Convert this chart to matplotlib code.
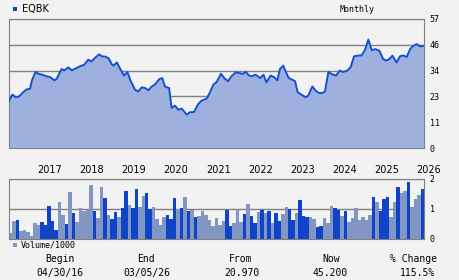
import numpy as np
import matplotlib
matplotlib.use("Agg")
import matplotlib.pyplot as plt
from matplotlib.patches import Rectangle

# price line, x in decimal years
price_t = [2016.33, 2016.41, 2016.49, 2016.57, 2016.67, 2016.75, 2016.83, 2016.88, 2016.96,
           2017.03, 2017.12, 2017.22, 2017.30, 2017.41, 2017.46, 2017.58, 2017.64, 2017.74,
           2017.82, 2017.91, 2018.01, 2018.11, 2018.21, 2018.29, 2018.39, 2018.47, 2018.54,
           2018.62, 2018.70, 2018.77, 2018.81, 2018.89, 2018.96, 2019.06, 2019.14, 2019.22,
           2019.32, 2019.40, 2019.48, 2019.56, 2019.64, 2019.72, 2019.79, 2019.90, 2019.97,
           2020.03, 2020.13, 2020.19, 2020.27, 2020.35, 2020.43, 2020.55, 2020.62, 2020.72,
           2020.82, 2020.90, 2021.02, 2021.10, 2021.18, 2021.26, 2021.33, 2021.36, 2021.44,
           2021.53, 2021.61, 2021.71, 2021.81, 2021.87, 2021.95, 2022.03, 2022.10, 2022.18,
           2022.29, 2022.37, 2022.44, 2022.54, 2022.62, 2022.70, 2022.76, 2022.84, 2022.90,
           2022.97, 2023.05, 2023.12, 2023.18, 2023.27, 2023.37, 2023.43, 2023.53, 2023.61,
           2023.69, 2023.77, 2023.83, 2023.91, 2023.99, 2024.09, 2024.18, 2024.26, 2024.36,
           2024.44, 2024.52, 2024.60, 2024.70, 2024.78, 2024.86, 2024.94, 2025.02, 2025.12,
           2025.21, 2025.29, 2025.37, 2025.43, 2025.53, 2025.61, 2025.69, 2025.77, 2025.85,
           2025.93, 2026.01, 2026.09, 2026.18]
price = [20.9, 23.6, 22.4, 22.8, 24.7, 25.9, 26.2, 30.2, 33.6,
         32.8, 32.4, 31.7, 31.4, 29.9, 30.6, 34.9, 34.3, 35.6,
         34.3, 35.1, 36.1, 36.7, 39.0, 38.3, 40.1, 41.4, 40.5,
         40.4, 39.5, 37.0, 36.4, 37.8, 35.3, 32.0, 33.6, 29.5,
         25.8, 25.0, 26.8, 26.5, 25.5, 27.2, 28.0, 30.5, 30.9,
         27.2, 26.5, 17.7, 18.7, 16.9, 17.4, 14.7, 15.8, 15.9,
         19.4, 20.9, 21.8, 24.6, 28.0, 29.2, 31.7, 32.8, 30.9,
         29.5, 31.7, 33.4, 33.1, 32.7, 33.6, 32.0, 31.7, 32.4,
         30.9, 32.4, 29.0, 32.0, 31.4, 29.9, 34.9, 36.4, 33.6,
         30.9, 30.2, 29.5, 24.7, 23.6, 22.4, 23.1, 27.2, 25.3,
         24.3, 24.3, 25.0, 33.6, 32.7, 32.0, 34.2, 33.6, 34.2,
         35.8, 40.5, 40.8, 40.9, 43.4, 47.9, 43.2, 43.7, 43.0,
         39.3, 38.6, 39.5, 40.8, 37.8, 40.5, 40.9, 40.2, 43.7,
         45.2, 45.9, 44.9, 45.2]

# monthly volume (thousands), 1 = up month (dark bar)
volume = [0.19, 0.6, 0.64, 0.28, 0.3, 0.23, 0.1, 0.54, 0.47, 0.57,
          0.47, 1.1, 0.6, 0.3, 1.24, 0.8, 0.5, 1.58, 0.87, 0.57,
          1.03, 0.92, 0.98, 1.81, 0.94, 0.7, 1.74, 1.37, 0.8, 0.67,
          0.9, 0.74, 1.04, 1.6, 1.14, 1.04, 1.68, 1.07, 1.44, 1.54,
          1.0, 1.07, 0.67, 0.47, 0.74, 0.8, 0.67, 1.37, 1.0, 1.04,
          1.41, 0.94, 0.97, 0.74, 0.77, 0.94, 0.8, 0.64, 0.44, 0.7,
          0.47, 0.6, 0.97, 0.44, 0.54, 1.0, 0.57, 0.84, 1.17, 0.77,
          0.54, 0.9, 0.97, 0.87, 0.94, 0.54, 0.87, 0.6, 0.84, 1.07,
          1.0, 0.64, 0.87, 1.31, 0.77, 0.74, 0.74, 0.67, 0.4, 0.44,
          0.7, 0.54, 1.1, 1.04, 0.97, 0.77, 0.94, 0.57, 0.7, 1.04,
          0.64, 0.74, 0.64, 0.8, 1.41, 1.24, 0.94, 1.34, 1.41, 0.74,
          1.24, 1.74, 1.54, 1.61, 1.91, 1.07, 1.34, 1.47, 1.68]
up = [0, 0, 1, 0, 0, 0, 0, 0, 0, 1,
      1, 1, 1, 1, 0, 0, 1, 0, 1, 0,
      0, 0, 0, 0, 1, 0, 0, 1, 0, 1,
      1, 0, 1, 1, 0, 1, 1, 0, 0, 1,
      1, 0, 0, 0, 0, 1, 1, 1, 0, 1,
      0, 1, 0, 1, 0, 0, 0, 0, 0, 0,
      0, 0, 1, 1, 0, 0, 0, 1, 0, 1,
      1, 0, 1, 0, 1, 0, 1, 1, 0, 0,
      1, 1, 0, 1, 1, 1, 0, 0, 1, 1,
      0, 0, 0, 1, 1, 0, 1, 0, 0, 0,
      0, 0, 0, 0, 1, 0, 1, 1, 1, 0,
      0, 1, 0, 0, 1, 0, 0, 0, 1]

years = list(range(2017, 2027))
price_ticks = ["0", "11", "23", "34", "46", "57"]
t_start, t_end = 2016.33, 2026.18

BG = "#f2f2f2"
GRID = "#808080"
FILL = "#9db0de"
LINE = "#1450d2"
DARK = "#1044c8"
LIGHT = "#8296c3"

W, H = 460, 280
fig = plt.figure(figsize=(W / 100, H / 100), dpi=100, facecolor=BG)


def box(l, t, r, b):
    return [l / W, 1 - b / H, (r - l) / W, (b - t) / H]


def px(x, y):
    return x / W, 1 - y / H


# price panel
ax = fig.add_axes(box(9, 19, 424, 148))
ax.set_facecolor(BG)
ax.fill_between(price_t, price, 0, color=FILL, lw=0, zorder=2)
ax.plot(price_t, price, color=LINE, lw=1.4, zorder=3)
ax.set_xlim(t_start, t_end)
ax.set_ylim(0, 57)
ax.set_yticks(np.linspace(0, 57, 6))
ax.set_yticklabels(price_ticks, family="DejaVu Sans Mono", fontsize=6)
ax.yaxis.tick_right()
ax.tick_params(axis="y", length=0, pad=4)
ax.set_xticks([])
ax.grid(axis="y", color=GRID, lw=1, zorder=1)
for s in ax.spines.values():
    s.set_color(GRID)

# volume panel
ax2 = fig.add_axes(box(9, 179, 424, 239))
ax2.set_facecolor(BG)
n = len(volume)
step = (t_end - t_start) / n
centers = t_start + step * (np.arange(n) + 0.5)
colors = [DARK if u else LIGHT for u in up]
ax2.bar(centers, volume, width=step, color=colors, lw=0, zorder=2)
ax2.set_xlim(t_start, t_end)
ax2.set_ylim(0, 2)
ax2.set_yticks([0, 1, 2])
ax2.set_yticklabels(["0", "1", "2"], family="DejaVu Sans Mono", fontsize=6)
ax2.yaxis.tick_right()
ax2.tick_params(axis="y", length=0, pad=4)
ax2.grid(axis="y", color=GRID, lw=1, zorder=1)
ax2.xaxis.tick_top()
ax2.set_xticks(years)
ax2.set_xticklabels([str(y) for y in years], fontsize=7, ha="left")
ax2.tick_params(axis="x", length=0, pad=3)
for s in ax2.spines.values():
    s.set_color(GRID)

# header
fig.patches.append(Rectangle(px(13, 11), 4 / W, 4 / H, transform=fig.transFigure,
                             color=DARK, lw=0))
fig.text(*px(22, 9), "EQBK", fontsize=7, va="center", ha="left")
fig.text(*px(340, 9), "Monthly", family="DejaVu Sans Mono", fontsize=6,
         va="center", ha="left")

# volume legend
fig.patches.append(Rectangle(px(13, 247), 4 / W, 4 / H, transform=fig.transFigure,
                             color=LIGHT, lw=0))
fig.text(*px(21, 245), "Volume/1000", family="DejaVu Sans Mono", fontsize=6,
         va="center", ha="left")

# footer
footer = [("Begin", "04/30/16", 60, 60), ("End", "03/05/26", 146, 147),
          ("From", "20.970", 241, 242), ("Now", "45.200", 331, 330),
          ("% Change", "115.5%", 414, 417)]
for head, val, x1, x2 in footer:
    fig.text(*px(x1, 259), head, family="DejaVu Sans Mono", fontsize=7,
             va="center", ha="center")
    fig.text(*px(x2, 273), val, family="DejaVu Sans Mono", fontsize=7,
             va="center", ha="center")

fig.savefig("out.png", dpi=100, facecolor=BG)
